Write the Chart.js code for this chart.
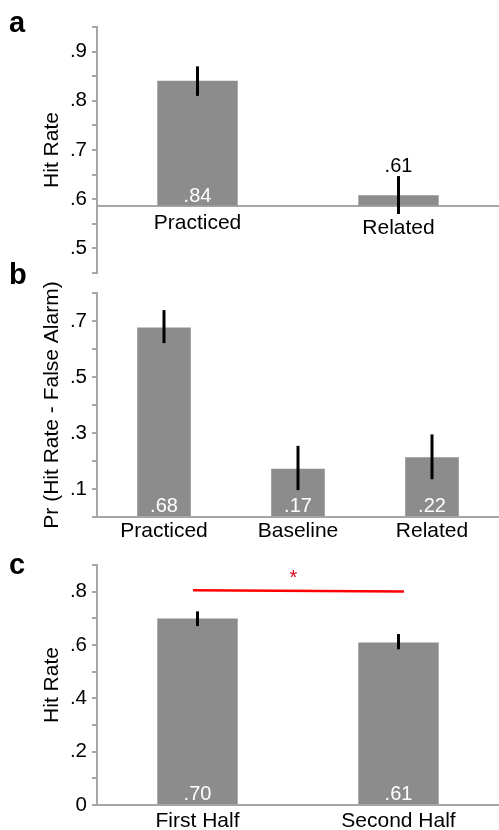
<!DOCTYPE html>
<html>
<head>
<meta charset="utf-8">
<script src="https://cdn.jsdelivr.net/npm/chart.js@4.4.1/dist/chart.umd.min.js"></script>
<style>
  body { margin: 0; background: #fff; }
  #wrap { position: relative; width: 499px; height: 830px; overflow: hidden; }
  canvas { position: absolute; left: 0; }
  .tag { position: absolute; left: 9px; font: bold 29px "Liberation Sans", Arial, sans-serif; line-height: 1; color: #000; }
</style>
</head>
<body>
<div id="wrap">
  <canvas id="chartA" width="499" height="280" style="top:0"></canvas>
  <canvas id="chartB" width="499" height="262" style="top:280px"></canvas>
  <canvas id="chartC" width="499" height="288" style="top:542px"></canvas>
  <div class="tag" style="top:8px">a</div>
  <div class="tag" style="top:260px">b</div>
  <div class="tag" style="top:550px">c</div>
</div>
<script>
// panel a
const catsA = ["Practiced", "Related"];
const hitA = [0.841, 0.608];
const loA = [0.81, 0.57];
const hiA = [0.87, 0.647];
const textA = [".84", ".61"];
const baseA = 0.587;

// panel b
const catsB = ["Practiced", "Baseline", "Related"];
const prB = [0.677, 0.172, 0.213];
const loB = [0.621, 0.096, 0.135];
const hiB = [0.739, 0.254, 0.295];
const textB = [".68", ".17", ".22"];

// panel c
const catsC = ["First Half", "Second Half"];
const hitC = [0.699, 0.609];
const loC = [0.671, 0.584];
const hiC = [0.726, 0.641];
const textC = [".70", ".61"];
const sigX = [-0.022, 1.027];
const sigY = [0.805, 0.801];

Chart.defaults.font.family = "'Liberation Sans', Arial, sans-serif";
Chart.defaults.color = "#000";

const axisColor = "#a6a6a6";
const barColor = "#8c8c8c";

// tick label text like ".6" / "0"
const fmt = (v) => {
  const t = Math.round(v * 10);
  return t === 0 ? "0" : "." + t;
};

function errorBars(lo, hi) {
  return {
    id: "errorBars",
    afterDatasetsDraw(chart) {
      const { ctx } = chart;
      const y = chart.scales.y;
      ctx.save();
      ctx.strokeStyle = "#000";
      ctx.lineWidth = 3;
      chart.getDatasetMeta(0).data.forEach((bar, i) => {
        ctx.beginPath();
        ctx.moveTo(bar.x, y.getPixelForValue(hi[i]));
        ctx.lineTo(bar.x, y.getPixelForValue(lo[i]));
        ctx.stroke();
      });
      ctx.restore();
    },
  };
}

// value numbers, white inside the bar or black over the error bar
function valueLabels(texts, hi, above) {
  return {
    id: "valueLabels",
    afterDatasetsDraw(chart) {
      const { ctx } = chart;
      const y = chart.scales.y;
      ctx.save();
      ctx.font = "20px 'Liberation Sans', Arial, sans-serif";
      ctx.textAlign = "center";
      ctx.textBaseline = "alphabetic";
      chart.getDatasetMeta(0).data.forEach((bar, i) => {
        if (above[i]) {
          ctx.fillStyle = "#000";
          ctx.fillText(texts[i], bar.x, y.getPixelForValue(hi[i]) - 4);
        } else {
          ctx.fillStyle = "#fff";
          ctx.fillText(texts[i], bar.x, bar.base - 4);
        }
      });
      ctx.restore();
    },
  };
}

const sigLine = {
  id: "sigLine",
  afterDatasetsDraw(chart) {
    const { ctx } = chart;
    const { x, y } = chart.scales;
    const x0 = x.getPixelForValue(sigX[0]);
    const x1 = x.getPixelForValue(sigX[1]);
    const y0 = y.getPixelForValue(sigY[0]);
    const y1 = y.getPixelForValue(sigY[1]);
    ctx.save();
    ctx.strokeStyle = "#ff0000";
    ctx.lineWidth = 2.5;
    ctx.beginPath();
    ctx.moveTo(x0, y0);
    ctx.lineTo(x1, y1);
    ctx.stroke();
    ctx.fillStyle = "#e0001b";
    ctx.font = "20px 'Liberation Sans', Arial, sans-serif";
    ctx.textAlign = "center";
    ctx.fillText("*", (x0 + x1) / 2 - 5, Math.min(y0, y1) - 6);
    ctx.restore();
  },
};

function yAxis(min, max, step, title, showTick) {
  return {
    min,
    max,
    afterFit: (s) => {
      s.width = 97;
      // empty end labels should not push the plot area in
      s.paddingTop = 0;
      s.paddingBottom = 0;
    },
    border: { color: axisColor, width: 2 },
    grid: { display: true, drawOnChartArea: false, drawTicks: true, tickLength: 5, color: axisColor, lineWidth: 2 },
    ticks: {
      stepSize: step,
      autoSkip: false,
      padding: 5,
      font: { size: 20.5 },
      callback: (v) => (showTick(Math.round(v * 100)) ? fmt(v) : ""),
    },
    title: { display: true, text: title, font: { size: 21 }, padding: { top: 40, bottom: 0 } },
  };
}

function barSet(data, extra) {
  return Object.assign({
    data,
    backgroundColor: barColor,
    borderWidth: 0,
    categoryPercentage: 1,
    barPercentage: 0.4,
  }, extra || {});
}

new Chart(document.getElementById("chartA"), {
  type: "bar",
  data: { labels: catsA, datasets: [barSet(hitA, { base: baseA })] },
  options: {
    responsive: false,
    animation: false,
    layout: { padding: { top: 27, bottom: 7, left: 0, right: 0 } },
    plugins: { legend: { display: false }, tooltip: { enabled: false } },
    scales: {
      x: {
        position: { y: baseA },
        afterFit: (s) => { s.height = 0; },
        border: { color: axisColor, width: 2 },
        grid: { display: false, drawTicks: false },
        ticks: {
          padding: 5,
          // "Related" sits a bit lower in the original
          font: (c) => ({ size: 21, lineHeight: c.index === 1 ? 1.65 : 1.2 }),
        },
      },
      y: yAxis(0.45, 0.95, 0.05, "Hit Rate", (t) => t % 10 === 0),
    },
  },
  plugins: [errorBars(loA, hiA), valueLabels(textA, hiA, [false, true])],
});

new Chart(document.getElementById("chartB"), {
  type: "bar",
  data: { labels: catsB, datasets: [barSet(prB)] },
  options: {
    responsive: false,
    animation: false,
    layout: { padding: { top: 13, bottom: 0, left: 0, right: 0 } },
    plugins: { legend: { display: false }, tooltip: { enabled: false } },
    scales: {
      x: {
        afterFit: (s) => { s.height = 25; },
        border: { color: axisColor, width: 2 },
        grid: { display: false, drawTicks: false },
        ticks: { padding: 2, font: { size: 21 } },
      },
      y: yAxis(0, 0.8, 0.1, "Pr (Hit Rate - False Alarm)", (t) => t % 20 === 10),
    },
  },
  plugins: [errorBars(loB, hiB), valueLabels(textB, hiB, [false, false, false])],
});

new Chart(document.getElementById("chartC"), {
  type: "bar",
  data: { labels: catsC, datasets: [barSet(hitC)] },
  options: {
    responsive: false,
    animation: false,
    layout: { padding: { top: 23, bottom: 0, left: 0, right: 0 } },
    plugins: { legend: { display: false }, tooltip: { enabled: false } },
    scales: {
      x: {
        afterFit: (s) => { s.height = 25; },
        border: { color: axisColor, width: 2 },
        grid: { display: false, drawTicks: false },
        ticks: { padding: 4, font: { size: 21 } },
      },
      y: yAxis(0, 0.9, 0.1, "Hit Rate", (t) => t % 20 === 0),
    },
  },
  plugins: [errorBars(loC, hiC), valueLabels(textC, hiC, [false, false]), sigLine],
});
</script>
</body>
</html>
